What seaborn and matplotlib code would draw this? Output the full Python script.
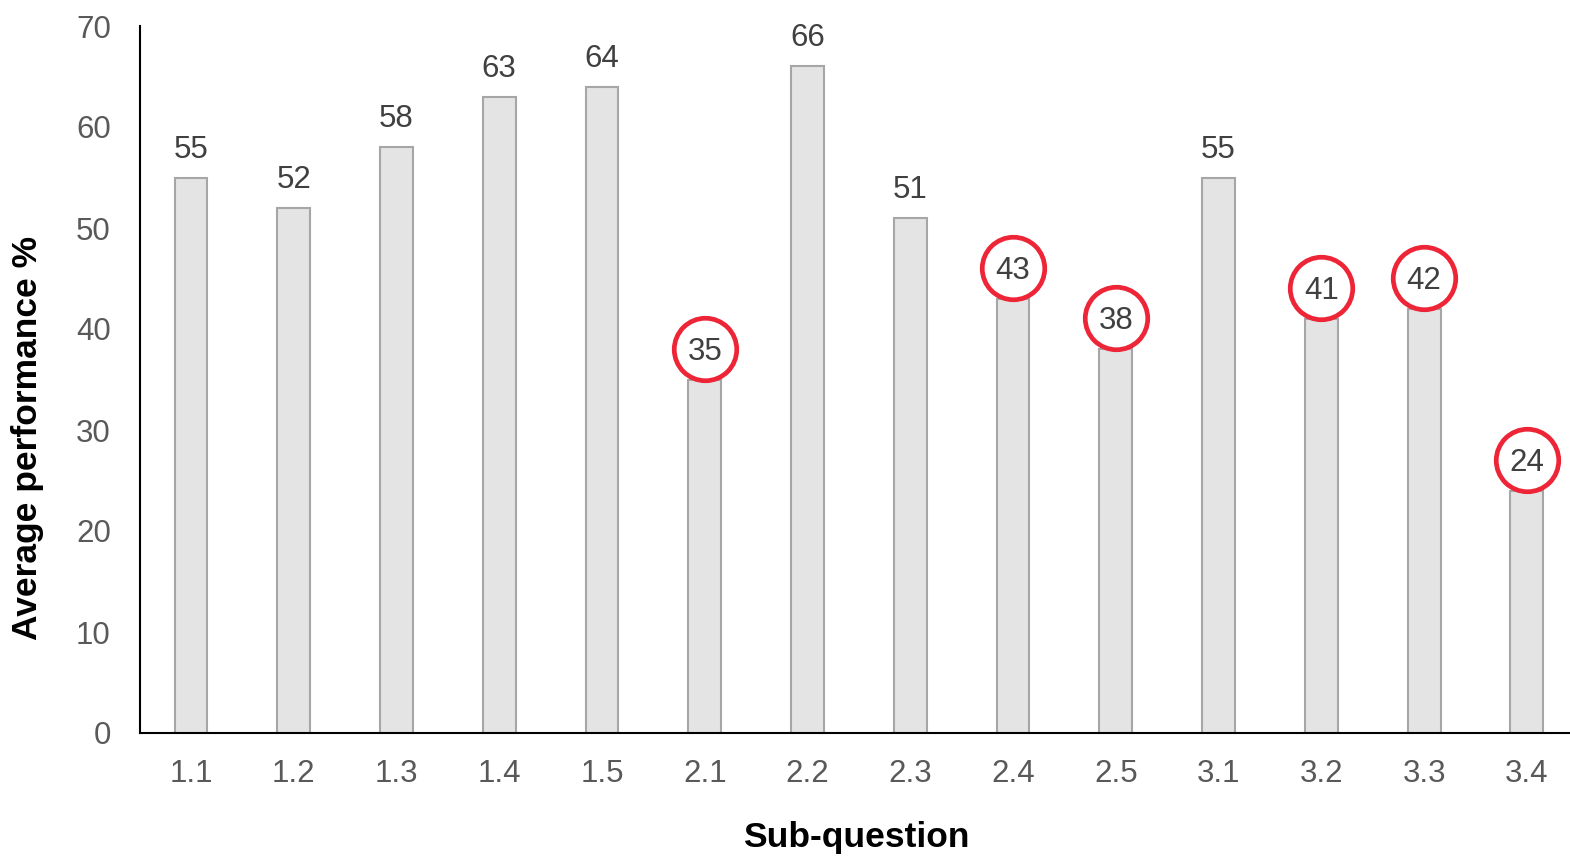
import matplotlib
matplotlib.use("Agg")
import matplotlib.pyplot as plt
import matplotlib.transforms as mtransforms
import seaborn as sns
import pandas as pd

categories = ["1.1", "1.2", "1.3", "1.4", "1.5", "2.1", "2.2", "2.3", "2.4", "2.5", "3.1", "3.2", "3.3", "3.4"]
values = [55, 52, 58, 63, 64, 35, 66, 51, 43, 38, 55, 41, 42, 24]
circled = ["2.1", "2.4", "2.5", "3.2", "3.3", "3.4"]
y_ticks = [0, 10, 20, 30, 40, 50, 60, 70]

sns.set_theme(style="white")
plt.rcParams['font.family'] = ['Liberation Sans', 'DejaVu Sans']

W, H = 1570, 857
fig = plt.figure(figsize=(W / 100, H / 100), dpi=100)
ax = fig.add_axes([140 / W, (H - 733) / H, (W - 140) / W, 707 / H])

df = pd.DataFrame({"cat": categories, "val": values})
sns.barplot(data=df, x="cat", y="val", ax=ax, color="#E4E4E4", saturation=1,
            edgecolor="#A6A6A6", linewidth=1.5, width=0.32)

ax.set_ylim(0, 70)
ax.set_xlim(-0.496, 13.42)
ax.set_yticks(y_ticks)
ax.set_yticklabels([str(t) for t in y_ticks])
ax.tick_params(axis="both", length=0, labelsize=22.5, colors="#595959")
ax.tick_params(axis="y", pad=21)
ax.tick_params(axis="x", pad=18.5)
ax.set_xlabel("")
ax.set_ylabel("")
for s in ["top", "right"]:
    ax.spines[s].set_visible(False)
for s in ["left", "bottom"]:
    ax.spines[s].set_color("black")
    ax.spines[s].set_linewidth(1.5)

off = mtransforms.offset_copy(ax.transData, fig=fig, x=0, y=28, units="dots")
off_c = mtransforms.offset_copy(ax.transData, fig=fig, x=0, y=31, units="dots")
for i, (c, v) in enumerate(zip(categories, values)):
    ax.text(i, v, str(v), transform=off, ha="center", va="center",
            fontsize=22.5, color="#404040")
    if c in circled:
        ax.plot([i], [v], marker="o", markersize=45, markerfacecolor="none",
                markeredgecolor="#EE2536", markeredgewidth=3.4,
                transform=off_c, clip_on=False, zorder=5)

fig.text(28 / W, 1 - 438 / H, "Average performance %", rotation=90,
         ha="center", va="center", fontsize=25.5, fontweight="bold", color="black")
fig.text(856 / W, 1 - 838 / H, "Sub-question", ha="center", va="center",
         fontsize=25.5, fontweight="bold", color="black")

fig.savefig("out.png", dpi=100)
